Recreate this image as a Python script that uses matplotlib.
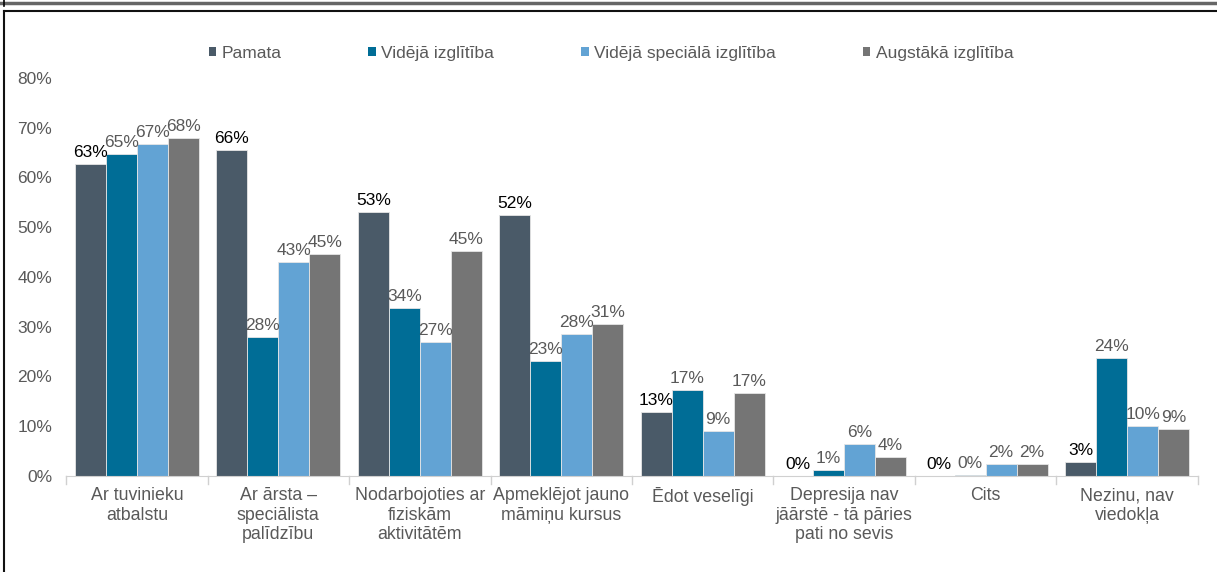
import matplotlib
matplotlib.use("Agg")
import matplotlib.pyplot as plt
import numpy as np
from matplotlib.lines import Line2D
from matplotlib.patches import Patch

plt.rcParams["font.family"] = ["Liberation Sans", "DejaVu Sans"]

categories = [
    "Ar tuvinieku\natbalstu",
    "Ar ārsta –\nspeciālista\npalīdzību",
    "Nodarbojoties ar\nfiziskām\naktivitātēm",
    "Apmeklējot jauno\nmāmiņu kursus",
    "Ēdot veselīgi",
    "Depresija nav\njāārstē - tā pāries\npati no sevis",
    "Cits",
    "Nezinu, nav\nviedokļa",
]
series_names = ["Pamata", "Vidējā izglītība", "Vidējā speciālā izglītība", "Augstākā izglītība"]
pamata = [62.7, 65.5, 53.1, 52.5, 12.9, 0.0, 0.0, 2.8]
videja = [64.6, 27.9, 33.8, 23.1, 17.3, 1.2, 0.2, 23.7]
specials = [66.7, 43.0, 26.9, 28.5, 9.0, 6.4, 2.4, 10.0]
augstaka = [67.9, 44.6, 45.2, 30.6, 16.7, 3.8, 2.4, 9.4]
yticks = [0, 10, 20, 30, 40, 50, 60, 70, 80]

colors = ["#4a5a68", "#006d96", "#62a3d4", "#757575"]
label_colors = ["#000000", "#595959", "#595959", "#595959"]
fs = 12.5

fig = plt.figure(figsize=(12.17, 5.72), dpi=100)
ax = fig.add_axes([0.0543, 0.168, 0.930, 0.696])

x = np.arange(len(categories))
w = 0.219
data = [pamata, videja, specials, augstaka]
for i, (vals, c, lc) in enumerate(zip(data, colors, label_colors)):
    pos = x + (i - 1.5) * w
    ax.bar(pos, vals, width=w, color=c, edgecolor="#e6e6e6", linewidth=0.6)
    for px, v in zip(pos, vals):
        ax.text(px, v + 0.8, f"{round(v):.0f}%", ha="center", va="bottom",
                fontsize=fs, color=lc)

ax.set_xlim(-0.5, len(categories) - 0.5)
ax.set_ylim(0, 80)
ax.set_yticks(yticks)
ax.set_yticklabels([f"{t}%" for t in yticks], fontsize=fs, color="#595959")
ax.set_xticks(x)
ax.set_xticklabels(categories, fontsize=12.8, color="#595959", linespacing=1.2)
ax.tick_params(axis="x", length=0, pad=8)
ax.tick_params(axis="y", length=0, pad=10)
for sp in ["top", "right", "left"]:
    ax.spines[sp].set_visible(False)
ax.spines["bottom"].set_color("#d0d0d0")
# category separator ticks
for b in np.arange(-0.5, len(categories) + 0.5, 1.0):
    ax.plot([b, b], [0, -1.6], color="#d0d0d0", lw=1, clip_on=False)

handles = [Patch(facecolor=c, edgecolor="none") for c in colors]
fig.legend(handles, series_names, loc="center", bbox_to_anchor=(0.502, 0.907),
           ncol=4, frameon=False, fontsize=fs, handlelength=0.45, handleheight=0.45,
           handletextpad=0.3, columnspacing=5.0, labelcolor="#595959")

# outer frame lines
fig.add_artist(Line2D([0.0, 1.0], [0.995, 0.995], color="#666666", lw=2.5,
                      transform=fig.transFigure))
fig.add_artist(Line2D([0.003, 0.003], [0.99, 1.0], color="#000000", lw=1.2,
                      transform=fig.transFigure))
fig.add_artist(Line2D([0.003, 1.0], [0.980, 0.980], color="#111111", lw=1.5,
                      transform=fig.transFigure))
fig.add_artist(Line2D([0.003, 0.003], [0.0, 0.980], color="#111111", lw=1.5,
                      transform=fig.transFigure))

fig.savefig("out.png", dpi=100)
